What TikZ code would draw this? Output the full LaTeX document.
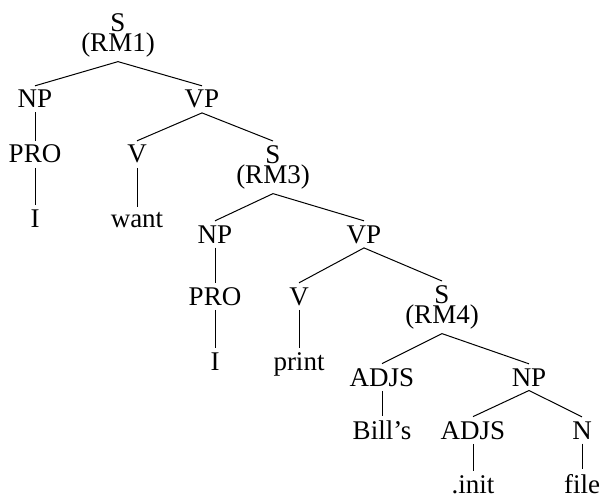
\documentclass[tikz,border=0pt]{standalone}
\usepackage{fontspec}
\setmainfont{Liberation Serif}
\begin{document}
\begin{tikzpicture}[x=1pt, y=-1pt, line width=1pt,
  every node/.style={font=\fontsize{27}{20}\selectfont, inner xsep=0pt, inner ysep=4pt},
  lbl/.style={anchor=base},
  stk/.style={anchor=north, align=center}]

  \useasboundingbox (0,0) rectangle (607,497);

  % Top clause
  \node[stk] (s1) at (118,9) {S\\(RM1)};
  \node[lbl] (np1) at (35,108) {NP};
  \node[lbl] (vp1) at (202,108) {VP};
  \node[lbl] (pro1) at (35,163) {PRO};
  \node[lbl] (i1) at (35,227) {I};
  \node[lbl] (v1) at (137,163) {V};
  \node[lbl] (want) at (137,227) {want};

  % Embedded clause (RM3)
  \node[stk] (s3) at (273,141) {S\\(RM3)};
  \node[lbl] (np2) at (215,243) {NP};
  \node[lbl] (vp2) at (364,243) {VP};
  \node[lbl] (pro2) at (215,305) {PRO};
  \node[lbl] (i2) at (215,370) {I};
  \node[lbl] (v2) at (299,305) {V};
  \node[lbl] (print) at (299,370) {print};

  % Embedded clause (RM4)
  \node[stk] (s4) at (442,281) {S\\(RM4)};
  \node[lbl] (adjs1) at (382,386) {ADJS};
  \node[lbl] (np3) at (529,386) {NP};
  \node[lbl] (bills) at (382,439) {Bill's};
  \node[lbl] (adjs2) at (473,439) {ADJS};
  \node[lbl] (n1) at (582,439) {N};
  \node[lbl] (init) at (473,493) {.init};
  \node[lbl] (file) at (582,493) {file};

  % Branches of the top clause
  \draw (np1.north) -- (s1.south) -- (vp1.north);
  \draw (np1.south) -- (pro1.north);
  \draw (pro1.south) -- (i1.north);
  \draw (v1.north) -- (vp1.south) -- (s3.north);
  \draw (v1.south) -- (want.north);

  % Branches of (RM3)
  \draw (np2.north) -- (s3.south) -- (vp2.north);
  \draw (np2.south) -- (pro2.north);
  \draw (pro2.south) -- (i2.north);
  \draw (v2.north) -- (vp2.south) -- (s4.north);
  \draw (v2.south) -- (print.north);

  % Branches of (RM4)
  \draw (adjs1.north) -- (s4.south) -- (np3.north);
  \draw (adjs1.south) -- (bills.north);
  \draw (adjs2.north) -- (np3.south) -- (n1.north);
  \draw (adjs2.south) -- (init.north);
  \draw (n1.south) -- (file.north);

\end{tikzpicture}
\end{document}
